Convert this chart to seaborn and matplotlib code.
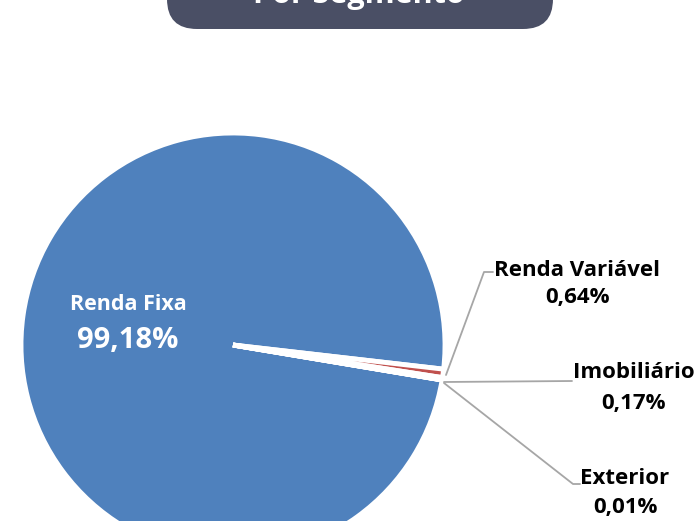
import matplotlib
matplotlib.use("Agg")
import matplotlib.pyplot as plt
from matplotlib.patches import FancyBboxPatch
import seaborn as sns

# ---- data ----
categories = ["Renda Fixa", "Renda Variável", "Imobiliário", "Exterior"]
values = [99.18, 0.64, 0.17, 0.01]
value_labels = ["99,18%", "0,64%", "0,17%", "0,01%"]
title = "Por Segmento"

sns.set_theme(style="white")
plt.rcParams['font.family'] = ['Open Sans', 'DejaVu Sans']

colors = ["#4F81BD", "#C0504D", "#9BBB59", "#8064A2"]

W, H = 697, 521
fig = plt.figure(figsize=(W / 100, H / 100), dpi=100)
ax = fig.add_axes([0, 0, 1, 1])

def Y(y):
    return H - y

cx, cy, r = 233, 345, 212
ax.pie(values, colors=colors, startangle=-9.5, counterclock=False,
       center=(cx, Y(cy)), radius=r, frame=True,
       wedgeprops=dict(edgecolor="white", linewidth=3.5))
ax.set_xlim(0, W)
ax.set_ylim(0, H)
ax.set_aspect("equal")
ax.axis("off")

# title box
box = FancyBboxPatch((167, Y(29)), 386, 80, boxstyle="round,pad=0,rounding_size=30",
                     facecolor="#4A4F65", edgecolor="none", zorder=5)
ax.add_patch(box)
ax.text(359, Y(-5), title, color="white", fontsize=22, fontweight="bold",
        ha="center", va="center", zorder=6)

# main label inside
ax.text(128, Y(305), categories[0], color="white", fontsize=15.5, fontweight="bold",
        ha="center", va="center", zorder=6)
ax.text(128, Y(340), value_labels[0], color="white", fontsize=21, fontweight="bold",
        ha="center", va="center", zorder=6)

# leader lines
lc = "#A6A6A6"
ax.plot([446, 484, 493], [Y(375), Y(272), Y(272)], color=lc, lw=1.3, zorder=4)
ax.plot([444, 572], [Y(382), Y(381)], color=lc, lw=1.3, zorder=4)
ax.plot([444, 573, 580], [Y(383), Y(484), Y(484)], color=lc, lw=1.3, zorder=4)

# outside labels
pos = [None, (577, 270, 297), (634, 373, 404), (625, 478, 507)]
for i in range(1, 4):
    x, y1, y2 = pos[i]
    ax.text(x, Y(y1), categories[i], color="black", fontsize=16, fontweight="bold",
            ha="center", va="center", zorder=6)
    ax.text(x, Y(y2), value_labels[i], color="black", fontsize=16, fontweight="bold",
            ha="center", va="center", zorder=6)

fig.savefig("out.png", dpi=100)
